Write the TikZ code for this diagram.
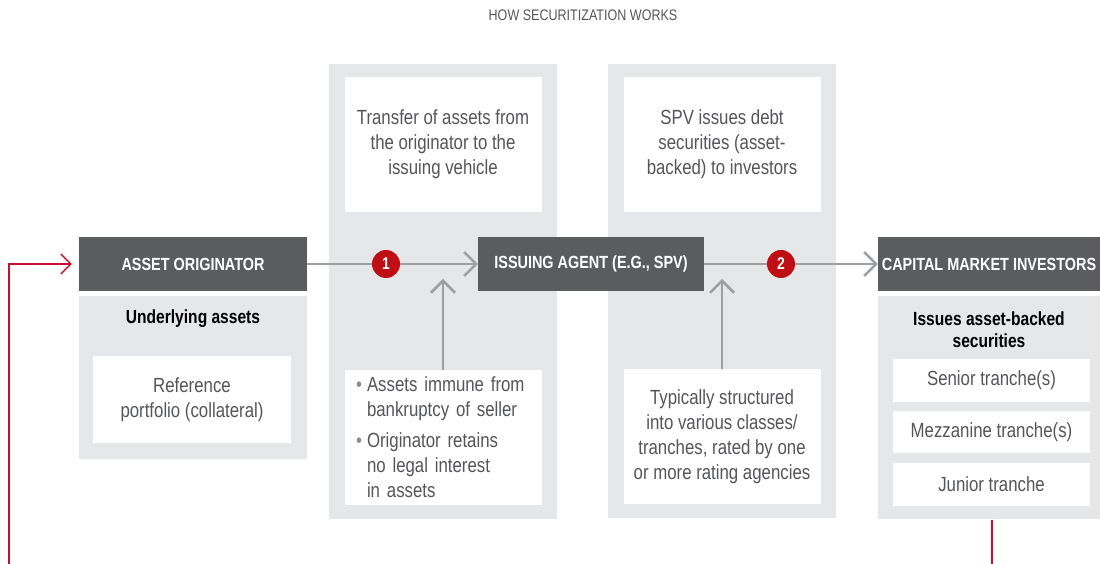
\documentclass[tikz,border=0pt]{standalone}
\usepackage{fontspec}
\setmainfont[FakeStretch=0.82]{Liberation Sans}
\usetikzlibrary{arrows.meta,positioning}
\definecolor{darkbox}{HTML}{5B5C5F}
\definecolor{panelgray}{HTML}{E6E7E8}
\definecolor{textgray}{HTML}{55565A}
\definecolor{bulletgray}{HTML}{8A8B8D}
\definecolor{arrowgray}{HTML}{9D9FA2}
\definecolor{stepred}{HTML}{C00F14}
\definecolor{returnred}{HTML}{C8102E}
\newcommand{\bul}{\makebox[11pt][l]{\textcolor{bulletgray}{\textbullet}}}
\newcommand{\hang}{\hspace*{11pt}}

\begin{document}
\begin{tikzpicture}[x=1pt, y=1pt,
  headline/.style = {text=textgray, font=\fontsize{15.3}{18}\selectfont},
  dark/.style = {fill=darkbox, text=white, minimum height=54pt, inner sep=0pt, font=\fontsize{17.6}{20}\bfseries\selectfont},
  panel/.style = {fill=panelgray, inner sep=0pt},
  whitebox/.style = {fill=white, text=textgray, inner sep=0pt, align=center, font=\fontsize{20.5}{25}\selectfont},
  heading/.style = {align=center, font=\fontsize{19}{22}\bfseries\selectfont},
  num/.style = {circle, fill=stepred, text=white, minimum size=28pt, inner sep=0pt, font=\fontsize{17}{17}\bfseries\selectfont},
  flow/.style = {draw=arrowgray, line width=2.5pt, -{Straight Barb[length=12pt,width=24pt]}},
  returnline/.style = {draw=returnred, line width=1.3pt, -{Straight Barb[length=10pt,width=20pt]}}]
\useasboundingbox (0,0) rectangle (1100,564);

\node[headline] (title) at (583,549) {HOW SECURITIZATION WORKS};

% grey columns behind the flow
\node[panel, minimum width=228pt, minimum height=455pt] (panelA) at (443,272.5) {};
\node[panel, minimum width=228pt, minimum height=454pt] (panelB) at (722,273) {};
\node[whitebox, minimum width=197pt, minimum height=135pt, below=13pt of panelA.north] (transfer) {Transfer of assets from\\the originator to the\\issuing vehicle};
\node[whitebox, minimum width=197pt, minimum height=135pt, below=13pt of panelB.north] (issue) {SPV issues debt\\securities (asset-\\backed) to investors};
\node[whitebox, text width=174pt, inner xsep=11.5pt, align=left, minimum height=135pt, above=14pt of panelA.south] (immune)
  {\bul Assets immune from\\\hang bankruptcy of seller\\[6pt]\bul Originator retains\\\hang no legal interest\\\hang in assets};
\node[whitebox, minimum width=197pt, minimum height=135pt, above=14pt of panelB.south] (tranches) {Typically structured\\into various classes/\\tranches, rated by one\\or more rating agencies};

% main boxes
\node[dark, minimum width=228pt] (orig) at (193,300) {ASSET ORIGINATOR};
\node[dark, minimum width=226pt] (issuer) at (591,300) {ISSUING AGENT (E.G., SPV)};
\node[dark, minimum width=222pt] (investors) at (989,300) {CAPITAL MARKET INVESTORS};

\node[panel, minimum width=228pt, minimum height=163pt, below=5pt of orig] (origpanel) {};
\node[heading] (underlying) at (193,245) {Underlying assets};
\node[whitebox, minimum width=198pt, minimum height=87pt] (portfolio) at (192,164.5) {Reference\\portfolio (collateral)};

\node[panel, minimum width=222pt, minimum height=223pt, below=5pt of investors] (invpanel) {};
\node[heading] (abs) at (989,234) {Issues asset-backed\\securities};
\node[whitebox, minimum width=197pt, minimum height=43pt] (senior) at (991.5,183.5) {Senior tranche(s)};
\node[whitebox, minimum width=197pt, minimum height=42pt, below=9pt of senior] (mezz) {Mezzanine tranche(s)};
\node[whitebox, minimum width=197pt, minimum height=43pt, below=9pt of mezz] (junior) {Junior tranche};

% arrows
\coordinate (tipA) at (443,285);
\coordinate (tipB) at (722,285);
\draw[flow] (orig) -- (issuer);
\draw[flow] (issuer) -- (investors);
\draw[flow] (immune.north) -- (immune.north |- tipA);
\draw[flow] (tranches.north) -- (tranches.north |- tipB);
\node[num] (step1) at (386,300) {1};
\node[num] (step2) at (781,300) {2};

% return line, runs out below the frame
\coordinate (turnR) at (992,-20);
\coordinate (turnL) at (9,-20);
\begin{scope}
\clip (0,0) rectangle (1100,564);
\draw[returnline] ([xshift=3pt]invpanel.south) -- (turnR) -- (turnL) |- ([xshift=-7pt]orig.west);
\end{scope}
\end{tikzpicture}
\end{document}
